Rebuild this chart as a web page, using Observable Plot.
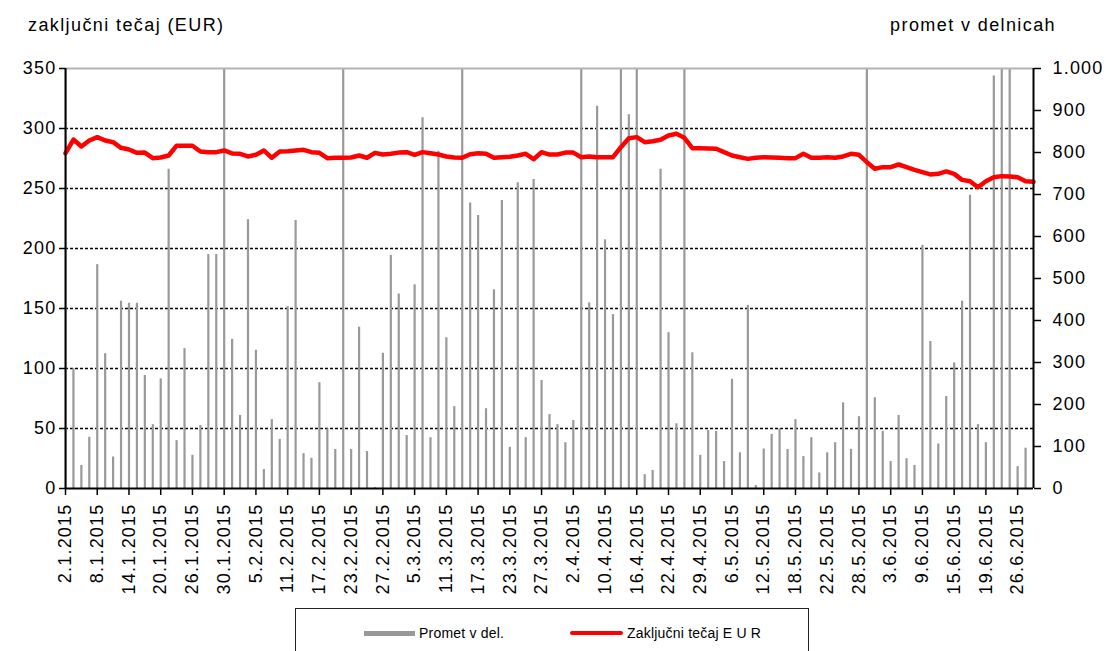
<!DOCTYPE html>
<html>
<head>
<meta charset="utf-8">
<script src="https://cdn.jsdelivr.net/npm/d3@7"></script>
<script src="https://cdn.jsdelivr.net/npm/@observablehq/plot@0.6"></script>
<style>
  html, body { margin: 0; padding: 0; background: #fff; overflow: hidden; }
  #wrap { position: relative; width: 1106px; height: 651px; font-family: "Liberation Sans", Arial, sans-serif; color: #000; }
  #wrap svg { display: block; }
  .ttl { position: absolute; font-size: 18px; line-height: 18px; letter-spacing: 1.4px; white-space: nowrap; }
  #legend { position: absolute; left: 295px; top: 608px; width: 514px; height: 60px; border: 1px solid #222; box-sizing: border-box; background: #fff; font-size: 14px; }
  .sw { position: absolute; }
  .lt { position: absolute; top: 16px; line-height: 16px; white-space: nowrap; letter-spacing: 0.2px; }
</style>
</head>
<body>
<div id="wrap">
  <div class="ttl" style="left:28px; top:16px;">zaključni tečaj (EUR)</div>
  <div class="ttl" style="right:50px; top:16px;">promet v delnicah</div>
  <div id="legend">
    <div class="sw" style="left:68px; top:22px; width:51px; height:5px; background:#999;"></div>
    <div class="lt" style="left:123px;">Promet v del.</div>
    <div class="sw" style="left:274px; top:22px; width:53px; height:4px; background:#ff0000; border-radius:2px;"></div>
    <div class="lt" style="left:331px;">Zaključni tečaj E U R</div>
  </div>
</div>
<script>
// trading days (categories)
const dates = [
  "2.1.2015","5.1.2015","6.1.2015","7.1.2015","8.1.2015","9.1.2015","12.1.2015","13.1.2015","14.1.2015","15.1.2015",
  "16.1.2015","19.1.2015","20.1.2015","21.1.2015","22.1.2015","23.1.2015","26.1.2015","27.1.2015","28.1.2015","29.1.2015",
  "30.1.2015","2.2.2015","3.2.2015","4.2.2015","5.2.2015","6.2.2015","9.2.2015","10.2.2015","11.2.2015","12.2.2015",
  "13.2.2015","16.2.2015","17.2.2015","18.2.2015","19.2.2015","20.2.2015","23.2.2015","24.2.2015","25.2.2015","26.2.2015",
  "27.2.2015","2.3.2015","3.3.2015","4.3.2015","5.3.2015","6.3.2015","9.3.2015","10.3.2015","11.3.2015","12.3.2015",
  "13.3.2015","16.3.2015","17.3.2015","18.3.2015","19.3.2015","20.3.2015","23.3.2015","24.3.2015","25.3.2015","26.3.2015",
  "27.3.2015","30.3.2015","31.3.2015","1.4.2015","2.4.2015","7.4.2015","8.4.2015","9.4.2015","10.4.2015","13.4.2015",
  "14.4.2015","15.4.2015","16.4.2015","17.4.2015","20.4.2015","21.4.2015","22.4.2015","23.4.2015","24.4.2015","28.4.2015",
  "29.4.2015","30.4.2015","4.5.2015","5.5.2015","6.5.2015","7.5.2015","8.5.2015","11.5.2015","12.5.2015","13.5.2015",
  "14.5.2015","15.5.2015","18.5.2015","19.5.2015","20.5.2015","21.5.2015","22.5.2015","25.5.2015","26.5.2015","27.5.2015",
  "28.5.2015","29.5.2015","1.6.2015","2.6.2015","3.6.2015","4.6.2015","5.6.2015","8.6.2015","9.6.2015","10.6.2015",
  "11.6.2015","12.6.2015","15.6.2015","16.6.2015","17.6.2015","18.6.2015","19.6.2015","22.6.2015","23.6.2015","24.6.2015",
  "26.6.2015","29.6.2015","30.6.2015"
];

// traded volume (shares) – right axis; values above 1.000 are cut off by the frame
const volume = [
  1100, 285, 55, 122, 533, 321, 75, 446, 441, 441,
  269, 152, 261, 760, 114, 333, 79, 150, 557, 557,
  1100, 355, 174, 640, 329, 45, 164, 117, 433, 638,
  83, 72, 252, 142, 93, 1100, 93, 384, 88, 2,
  322, 555, 463, 126, 485, 883, 121, 803, 359, 195,
  1100, 680, 650, 190, 473, 686, 98, 728, 121, 736,
  257, 176, 152, 109, 162, 1100, 442, 910, 592, 414,
  1100, 890, 1100, 33, 43, 760, 371, 154, 1100, 323,
  79, 138, 136, 64, 260, 85, 436, 7, 94, 129,
  142, 93, 164, 76, 121, 37, 85, 109, 204, 93,
  171, 1100, 216, 136, 64, 174, 71, 55, 579, 350,
  106, 219, 299, 446, 698, 152, 109, 982, 1100, 1100,
  52, 96, 0
];

// closing price (EUR) – left axis
const price = [
  279.4, 290.8, 285.0, 290.0, 292.8, 290.0, 288.6, 283.9, 282.5, 279.7,
  279.9, 275.3, 275.8, 277.5, 285.6, 285.6, 285.6, 280.8, 280.3, 280.3,
  281.7, 279.2, 278.9, 276.7, 278.1, 281.7, 275.6, 280.8, 281.1, 281.7,
  282.2, 280.3, 279.7, 275.3, 275.6, 275.6, 275.8, 277.5, 275.6, 279.7,
  278.3, 278.9, 279.9, 280.3, 278.1, 280.3, 279.4, 278.3, 276.7, 275.8,
  275.6, 278.6, 279.4, 278.9, 275.6, 276.1, 276.4, 277.5, 278.9, 274.4,
  280.3, 278.3, 278.3, 279.9, 279.9, 276.1, 276.7, 276.1, 276.1, 276.1,
  284.4, 291.9, 292.8, 288.6, 289.4, 290.6, 294.2, 295.6, 292.2, 283.6,
  283.6, 283.3, 283.1, 280.3, 277.5, 276.1, 274.7, 275.6, 276.1, 275.8,
  275.6, 275.3, 275.3, 278.9, 275.6, 275.6, 276.1, 275.6, 276.7, 278.9,
  278.1, 271.9, 266.4, 267.8, 267.8, 270.0, 267.8, 265.6, 263.6, 261.7,
  262.2, 264.2, 262.2, 257.2, 256.1, 251.1, 256.1, 259.4, 260.3, 260.0,
  259.4, 256.1, 255.6
];

// tick labels
const priceTicks = [0, 50, 100, 150, 200, 250, 300, 350];
const volTicks = [0, 100, 200, 300, 400, 500, 600, 700, 800, 900, 1000];
const volLabels = ["0", "100", "200", "300", "400", "500", "600", "700", "800", "900", "1.000"];
const dateTicks = dates.filter((d, i) => i % 4 === 0 && i <= 120);

const K = 350 / 1000; // volume -> price-axis units (both axes share the frame)
const data = dates.map((d, i) => ({date: d, vol: volume[i], price: price[i]}));

const chart = Plot.plot({
  width: 1106,
  height: 651,
  marginTop: 68,
  marginBottom: 163,
  marginLeft: 65,
  marginRight: 73,
  style: "font-family: 'Liberation Sans', Arial, sans-serif; font-size: 18px; letter-spacing: 1.2px; color: #000; background: #fff; overflow: visible;",
  x: {type: "point", domain: dates, padding: 0, axis: null, label: null},
  y: {domain: [0, 350], axis: null, label: null},
  marks: [
    Plot.ruleY(priceTicks.filter(v => v > 0 && v < 350), {stroke: "#000", strokeWidth: 1.3, strokeDasharray: "3,2"}),
    Plot.ruleX(data, {x: "date", y1: 0, y2: d => d.vol * K, stroke: "#999999", strokeWidth: 2.2, clip: true}),
    Plot.line(data, {x: "date", y: "price", stroke: "#ff0000", strokeWidth: 4.5, strokeLinejoin: "round"}),
    Plot.ruleY([350], {stroke: "#b3b3b3", strokeWidth: 2}),
    Plot.ruleX([dates[0], dates[dates.length - 1]], {stroke: "#000", strokeWidth: 2}),
    Plot.ruleY([0], {stroke: "#000", strokeWidth: 2}),
    Plot.axisY(priceTicks, {anchor: "left", tickSize: 6, tickPadding: 3, tickFormat: d => String(d), stroke: "#000", strokeWidth: 1.5}),
    Plot.axisY(volTicks.map(v => v * K), {anchor: "right", tickSize: 7, tickPadding: 12, tickFormat: d => volLabels[Math.round(d / (100 * K))], stroke: "#000", strokeWidth: 1.5}),
    Plot.axisX(dateTicks, {anchor: "bottom", tickSize: 7, tickPadding: 8, tickRotate: -90, stroke: "#000", strokeWidth: 1.5})
  ]
});
document.getElementById("wrap").prepend(chart);
</script>
</body>
</html>
